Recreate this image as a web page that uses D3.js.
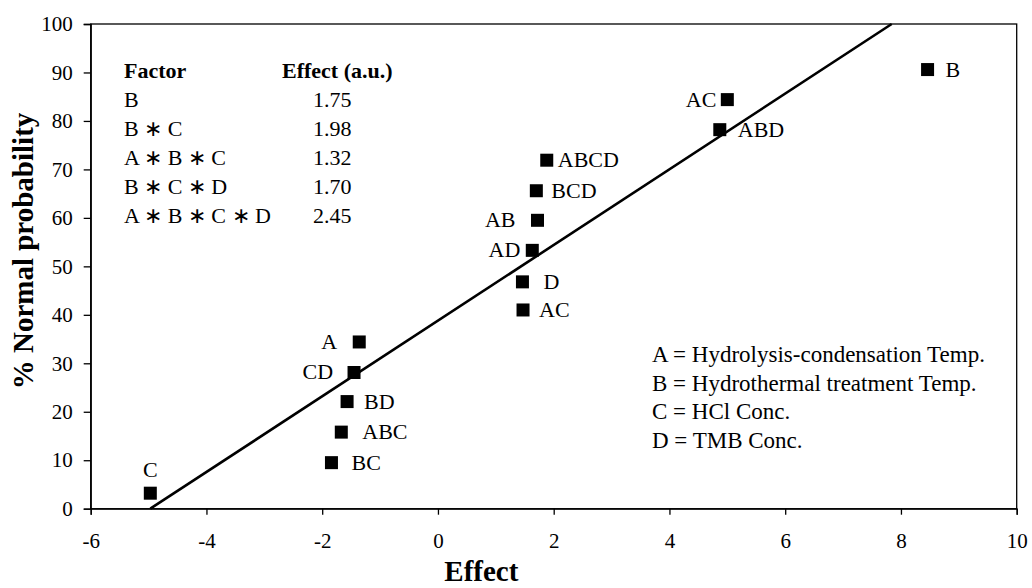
<!DOCTYPE html>
<meta charset="utf-8">
<head>
  <title>Normal probability plot</title>
</head>

<style>
body { margin: 0; background: #fff; }
svg text { font-family: "Liberation Serif", "Times New Roman", serif; fill: #000; }
.tick text { font-size: 21px; }
.axis path, .axis line { stroke: #000; stroke-width: 1.3; }
.title { font-size: 29px; font-weight: bold; }
.lbl { font-size: 22px; }
.key { font-size: 23px; }
</style>

<body>
  <svg width="1032" height="588"></svg>

  <script src="https://cdn.jsdelivr.net/npm/d3@7/dist/d3.min.js"></script>
  <script>
// effects and their normal probabilities
var names   = ['C', 'BC', 'ABC', 'BD', 'CD', 'A', 'AC', 'D', 'AD', 'AB', 'BCD', 'ABCD', 'ABD', 'AC', 'B'];
var effects = [-4.97, -1.84, -1.67, -1.57, -1.45, -1.36, 1.47, 1.46, 1.63, 1.72, 1.70, 1.88, 4.87, 5.00, 8.46];
var probs   = [3.2, 9.5, 15.8, 22.1, 28.1, 34.4, 41.0, 46.8, 53.3, 59.5, 65.6, 71.9, 78.2, 84.4, 90.6];

// fitted line ends
var fitX = [-4.97, 7.84];
var fitY = [0, 100];

var xTicks = [-6, -4, -2, 0, 2, 4, 6, 8, 10];
var yTicks = [0, 10, 20, 30, 40, 50, 60, 70, 80, 90, 100];

var tableFactors = ['B', 'B \u2217 C', 'A \u2217 B \u2217 C', 'B \u2217 C \u2217 D', 'A \u2217 B \u2217 C \u2217 D'];
var tableEffects = ['1.75', '1.98', '1.32', '1.70', '2.45'];

var keyLines = ['A = Hydrolysis-condensation Temp.', 'B = Hydrothermal treatment Temp.', 'C = HCl Conc.', 'D = TMB Conc.'];

// where each point label sits relative to its point
var labelOffset = [[0, -16], [20, 7], [21, 7], [17, 7], [-21, 7], [-22, 7], [16, 7], [21, 7], [-12, 7], [-22, 7], [15, 7], [11, 7], [18, 7], [-11, 7], [18, 7]];

var svg = d3.select('svg');
var mLeft = 90.7, mRight = 1016.7, mTop = 24, mBottom = 508.7;

var x = d3.scaleLinear().domain([-6, 10]).range([mLeft, mRight]);
var y = d3.scaleLinear().domain([0, 100]).range([mBottom, mTop]);

// frame
svg.append('rect')
  .attr('x', mLeft).attr('y', mTop)
  .attr('width', mRight - mLeft).attr('height', mBottom - mTop)
  .attr('fill', 'none').attr('stroke', '#000').attr('stroke-width', 1.3);

svg.append('g')
  .attr('class', 'axis')
  .attr('transform', 'translate(0,' + mBottom + ')')
  .call(d3.axisBottom(x).tickValues(xTicks).tickSize(6).tickPadding(18).tickFormat(function(d) { return String(d); }));

svg.append('g')
  .attr('class', 'axis')
  .attr('transform', 'translate(' + mLeft + ',0)')
  .call(d3.axisLeft(y).tickValues(yTicks).tickSize(7).tickPadding(11).tickFormat(function(d) { return String(d); }));

svg.selectAll('.tick text').attr('font-family', null).attr('font-size', null);

// fitted line
svg.append('line')
  .attr('x1', x(fitX[0])).attr('y1', y(fitY[0]))
  .attr('x2', x(fitX[1])).attr('y2', y(fitY[1]))
  .attr('stroke', '#000').attr('stroke-width', 2.6);

var pts = names.map(function(n, i) { return { name: n, e: effects[i], p: probs[i], off: labelOffset[i] }; });

svg.selectAll('rect.pt')
  .data(pts)
  .enter()
  .append('rect')
  .attr('class', 'pt')
  .attr('x', function(d) { return x(d.e) - 6.5; })
  .attr('y', function(d) { return y(d.p) - 6.5; })
  .attr('width', 13).attr('height', 13)
  .attr('fill', '#000');

svg.selectAll('text.ptl')
  .data(pts)
  .enter()
  .append('text')
  .attr('class', 'ptl lbl')
  .attr('x', function(d) { return x(d.e) + d.off[0]; })
  .attr('y', function(d) { return y(d.p) + d.off[1]; })
  .attr('text-anchor', function(d) { return d.off[0] > 0 ? 'start' : (d.off[0] < 0 ? 'end' : 'middle'); })
  .text(function(d) { return d.name; });

// factor table
svg.append('text').attr('class', 'lbl').attr('x', 124).attr('y', 78).attr('font-weight', 'bold').text('Factor');
svg.append('text').attr('class', 'lbl').attr('x', 282).attr('y', 78).attr('font-weight', 'bold').text('Effect (a.u.)');

svg.selectAll('text.fac')
  .data(tableFactors)
  .enter()
  .append('text')
  .attr('class', 'fac lbl')
  .attr('x', 124)
  .attr('y', function(d, i) { return 107 + i * 29; })
  .text(function(d) { return d; });

svg.selectAll('text.eff')
  .data(tableEffects)
  .enter()
  .append('text')
  .attr('class', 'eff lbl')
  .attr('x', 313)
  .attr('y', function(d, i) { return 107 + i * 29; })
  .text(function(d) { return d; });

// key
svg.selectAll('text.key')
  .data(keyLines)
  .enter()
  .append('text')
  .attr('class', 'key')
  .attr('x', 652)
  .attr('y', function(d, i) { return 362 + i * 28.5; })
  .text(function(d) { return d; });

// axis titles
svg.append('text')
  .attr('class', 'title')
  .attr('x', x(0.75)).attr('y', 581)
  .attr('text-anchor', 'middle')
  .text('Effect');

svg.append('text')
  .attr('class', 'title')
  .attr('transform', 'translate(33,251) rotate(-90)')
  .attr('text-anchor', 'middle')
  .text('% Normal probability');
  </script>
</body>
</html>
